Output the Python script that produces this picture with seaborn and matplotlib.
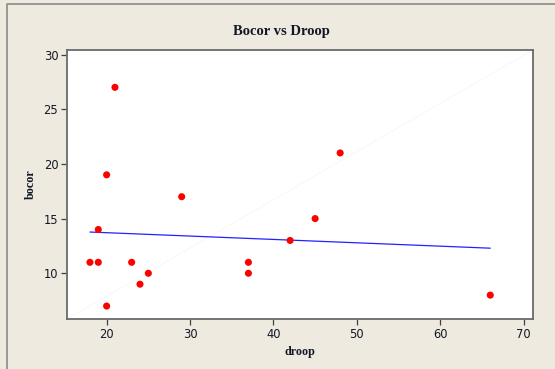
import matplotlib
matplotlib.use("Agg")
import matplotlib.pyplot as plt
from matplotlib.lines import Line2D
import seaborn as sns
import pandas as pd

droop = [21, 20, 19, 18, 19, 20, 23, 24, 25, 29, 37, 37, 42, 45, 48, 66]
bocor = [27, 19, 14, 11, 11, 7, 11, 9, 10, 17, 11, 10, 13, 15, 21, 8]
x_ticks = [20, 30, 40, 50, 60, 70]
y_ticks = [10, 15, 20, 25, 30]

df = pd.DataFrame({"droop": droop, "bocor": bocor})

sns.set_style("white")
bg = "#EEEAE0"
txt = "#141826"
fig = plt.figure(figsize=(5.55, 3.69), dpi=100, facecolor=bg)
ax = fig.add_axes([0.120, 0.1347, 0.840, 0.730])
ax.set_facecolor("white")

# faint diagonal artefact
ax.plot([0, 1], [0, 1], transform=ax.transAxes, color="#F8F8F6", lw=0.8, zorder=0)

sns.regplot(data=df, x="droop", y="bocor", ax=ax, ci=None, truncate=True,
            scatter_kws=dict(color="#FF0000", s=26, edgecolor="none", alpha=1, zorder=3),
            line_kws=dict(color="#2222FF", lw=0.9, zorder=2))

ax.set_xlim(15.2, 71.1)
ax.set_ylim(5.79, 30.42)
ax.set_xticks(x_ticks)
ax.set_yticks(y_ticks)

for s in ax.spines.values():
    s.set_color("#6A6A6A")
    s.set_linewidth(1.3)

ax.tick_params(axis="both", which="both", direction="out", length=4, width=0.9,
               color="#404040", labelsize=8.3, labelcolor=txt, pad=2,
               left=True, bottom=True)

ax.set_xlabel("droop", fontfamily="Liberation Serif", fontweight="bold", fontsize=8.7,
              labelpad=4, color=txt)
ax.set_ylabel("bocor", fontfamily="Liberation Serif", fontweight="bold", fontsize=8.7,
              labelpad=5, color=txt)
fig.suptitle("Bocor vs Droop", x=0.507, y=1 - 31 / 369, va="center",
             fontfamily="Liberation Serif", fontweight="bold", fontsize=10.5, color=txt)

# outer frame (left and top edges)
bx = 7 / 555
by = 1 - 4 / 369
fig.add_artist(Line2D([bx, bx, 1.0], [0.0, by, by], transform=fig.transFigure,
                      color="#8A8A8A", lw=1.2))

fig.savefig("out.png", dpi=100, facecolor=bg)
